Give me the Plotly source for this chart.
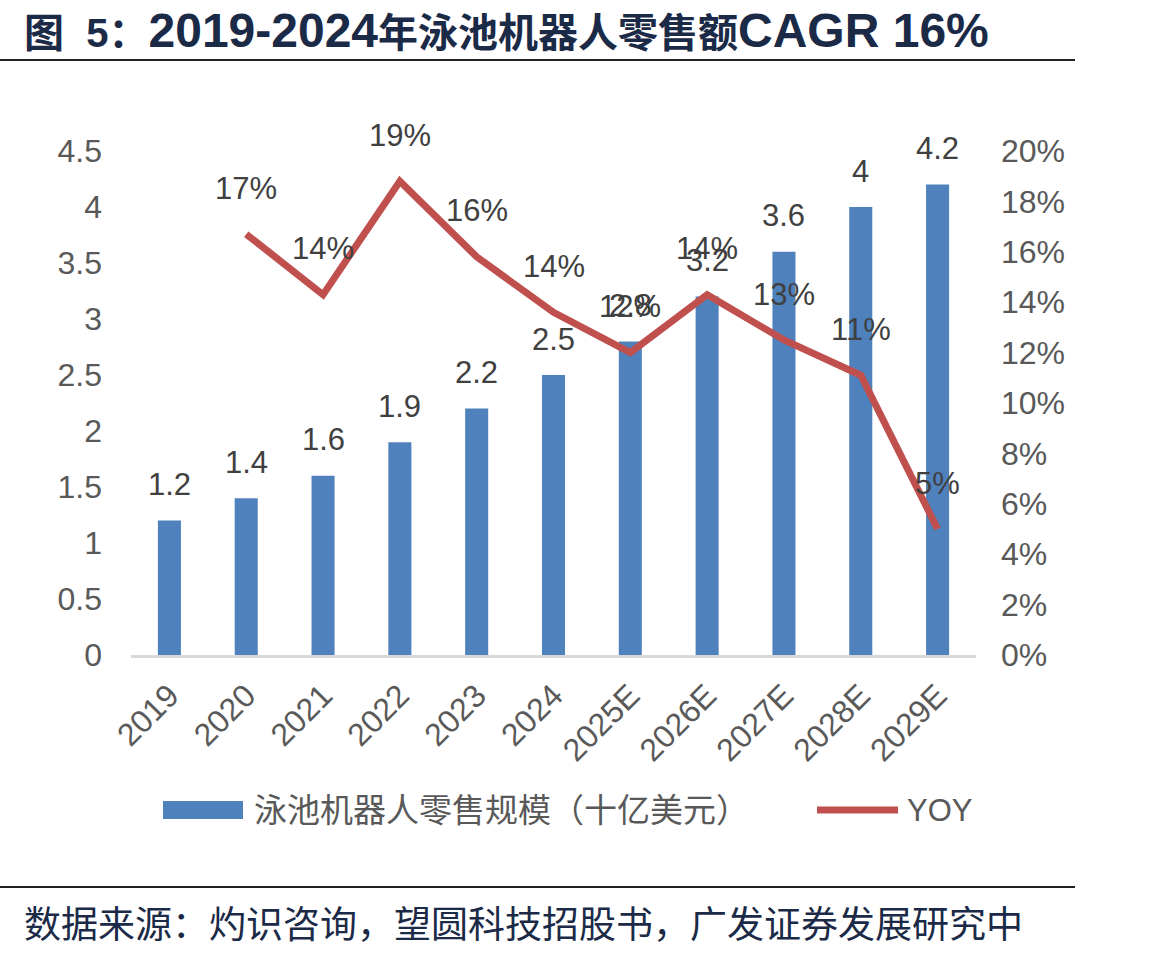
import plotly.graph_objects as go

years = ["2019", "2020", "2021", "2022", "2023", "2024", "2025E", "2026E", "2027E", "2028E", "2029E"]
retail = [1.2, 1.4, 1.6, 1.9, 2.2, 2.5, 2.8, 3.2, 3.6, 4, 4.2]
yoy_years = ["2020", "2021", "2022", "2023", "2024", "2025E", "2026E", "2027E", "2028E", "2029E"]
yoy = [16.7, 14.3, 18.8, 15.8, 13.6, 12.0, 14.3, 12.5, 11.1, 5.0]
yoy_labels = ["17%", "14%", "19%", "16%", "14%", "12%", "14%", "13%", "11%", "5%"]

title_parts = [("图  5：", "cjk"), ("2019-2024", "lat"), ("年泳池机器人零售额", "cjk"), ("CAGR 16%", "lat")]
source_text = "数据来源：灼识咨询，望圆科技招股书，广发证券发展研究中"
bar_name = "泳池机器人零售规模（十亿美元）"
line_name = "YOY"

W, H = 1168, 957
L, R, T, B = 131, 976, 151, 655

def px(xp):
    return (xp - L) / (R - L)

def py(yp):
    return (B - yp) / (B - T)

FONT = "Liberation Sans, Arial, Noto Sans CJK SC, sans-serif"
BLUE = "#4F81BD"
RED = "#C0504D"
GRAY = "#595959"
LBL = "#404040"
NAVY = "#1B2A47"

fig = go.Figure()
fig.add_trace(go.Bar(x=years, y=retail, name=bar_name, marker=dict(color=BLUE, line=dict(width=0)),
                     width=0.3, yaxis="y"))
fig.add_trace(go.Scatter(x=yoy_years, y=yoy, name=line_name, mode="lines",
                         line=dict(color=RED, width=7), yaxis="y2"))

ann = []
for x, v in zip(years, retail):
    ann.append(dict(x=years.index(x), y=v, xref="x", yref="y", text=f"{v:g}", showarrow=False,
                    yshift=36, font=dict(size=31, color=LBL, family=FONT)))
for x, v, t in zip(yoy_years, yoy, yoy_labels):
    ann.append(dict(x=years.index(x), y=v, xref="x", yref="y2", text=t, showarrow=False,
                    yshift=46, font=dict(size=31, color=LBL, family=FONT)))

# title / source
title_html = "".join(
    f"<span style='font-size:{48 if k == 'lat' else 40}px'>{s}</span>" for s, k in title_parts
)
ann.append(dict(x=px(22), y=py(31), xref="paper", yref="paper", xanchor="left", yanchor="middle",
                text="<b>" + title_html + "</b>", showarrow=False,
                font=dict(size=40, color=NAVY, family=FONT)))
ann.append(dict(x=px(22), y=py(922), xref="paper", yref="paper", xanchor="left", yanchor="middle",
                text=source_text, showarrow=False,
                font=dict(size=37, color=NAVY, family="Noto Sans CJK SC, sans-serif")))
# legend texts
ann.append(dict(x=px(252), y=py(810), xref="paper", yref="paper", xanchor="left", yanchor="middle",
                text=bar_name, showarrow=False, font=dict(size=33, color=GRAY, family=FONT)))
ann.append(dict(x=px(905), y=py(810), xref="paper", yref="paper", xanchor="left", yanchor="middle",
                text=line_name, showarrow=False, font=dict(size=31, color=GRAY, family=FONT)))

shapes = [
    dict(type="line", xref="paper", yref="paper", x0=px(0), x1=px(1075), y0=py(60), y1=py(60),
         line=dict(color="#222222", width=2)),
    dict(type="line", xref="paper", yref="paper", x0=px(0), x1=px(1075), y0=py(887), y1=py(887),
         line=dict(color="#222222", width=2)),
    dict(type="rect", xref="paper", yref="paper", x0=px(163), x1=px(243), y0=py(819), y1=py(801),
         fillcolor=BLUE, line=dict(width=0)),
    dict(type="line", xref="paper", yref="paper", x0=px(817), x1=px(898), y0=py(810), y1=py(810),
         line=dict(color=RED, width=7)),
]

fig.update_layout(
    width=W, height=H,
    margin=dict(l=L, r=W - R, t=T, b=H - B, pad=0),
    plot_bgcolor="white", paper_bgcolor="white",
    showlegend=False,
    font=dict(family=FONT, size=30, color=GRAY),
    xaxis=dict(type="category", range=[-0.5, len(years) - 0.5], showline=True, linecolor="#D9D9D9",
               linewidth=3, showgrid=False, tickangle=-45, tickfont=dict(size=32, color=GRAY),
               ticks="", zeroline=False, ticklabelstandoff=6),
    yaxis=dict(range=[0, 4.5], dtick=0.5, showgrid=False, zeroline=False, showline=False,
               tickfont=dict(size=32, color=GRAY), ticklabelstandoff=28),
    yaxis2=dict(range=[0, 20], dtick=2, ticksuffix="%", overlaying="y", side="right",
                showgrid=False, zeroline=False, showline=False,
                tickfont=dict(size=32, color=GRAY), ticklabelstandoff=24),
    annotations=ann,
    shapes=shapes,
)

fig.write_html("out.html")
